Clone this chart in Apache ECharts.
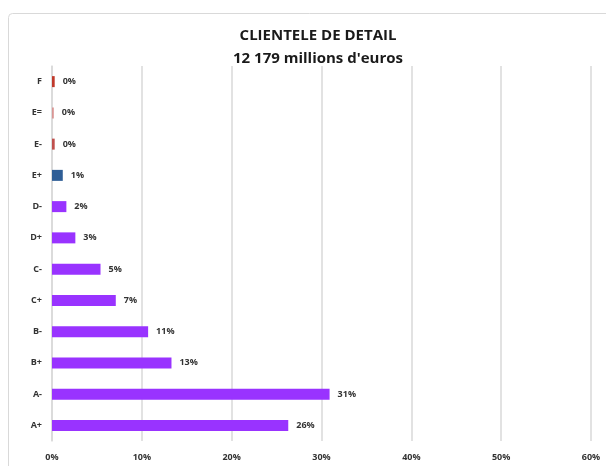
<!DOCTYPE html>
<html>
<head>
<meta charset="utf-8">
<script src="https://cdn.jsdelivr.net/npm/echarts@6/dist/echarts.min.js"></script>
<style>
  html, body { margin: 0; padding: 0; background: #fff; }
  #chart { width: 606px; height: 466px; }
</style>
</head>
<body>
<div id="chart"></div>
<script>
var categories = ['A+', 'A-', 'B+', 'B-', 'C+', 'C-', 'D+', 'D-', 'E+', 'E-', 'E=', 'F'];
var shares = [26.3, 30.9, 13.3, 10.7, 7.1, 5.4, 2.6, 1.6, 1.2, 0.3, 0.2, 0.3];
var barColors = ['#9933ff', '#9933ff', '#9933ff', '#9933ff', '#9933ff', '#9933ff',
  '#9933ff', '#9933ff', '#2f5e96', '#c0504d', '#d99694', '#c0392b'];
var xTicks = [0, 10, 20, 30, 40, 50, 60];

var font = 'Open Sans, Liberation Sans, sans-serif';
var chart = echarts.init(document.getElementById('chart'));

chart.setOption({
  animation: false,
  title: {
    text: 'CLIENTELE DE DETAIL\n12 179 millions d\'euros',
    left: 313,
    textAlign: 'center',
    top: 19,
    textStyle: { fontFamily: font, fontSize: 15, fontWeight: 'bold', color: '#1a1a1a', lineHeight: 23 }
  },
  graphic: [{
    type: 'rect',
    shape: { x: 8.5, y: 13.5, width: 620, height: 480, r: 4 },
    style: { fill: 'none', stroke: '#d9d9d9', lineWidth: 1 },
    silent: true
  }],
  grid: { left: 52, right: 15, top: 66, bottom: 25 },
  xAxis: {
    type: 'value',
    min: xTicks[0],
    max: xTicks[xTicks.length - 1],
    interval: 10,
    axisLine: { show: false },
    axisTick: { show: false },
    splitLine: { show: true, lineStyle: { color: '#d9d9d9', width: 1.5 } },
    axisLabel: {
      fontFamily: font, fontSize: 9, fontWeight: 'bold', color: '#333', margin: 12,
      formatter: function (v) { return v + '%'; }
    }
  },
  yAxis: {
    type: 'category',
    data: categories,
    axisLine: { show: true, lineStyle: { color: '#d9d9d9', width: 1.5 } },
    axisTick: { show: false },
    axisLabel: { fontFamily: font, fontSize: 9, fontWeight: 'bold', color: '#333', margin: 10 }
  },
  series: [{
    type: 'bar',
    data: shares.map(function (v, i) {
      return { value: v, itemStyle: { color: barColors[i] } };
    }),
    barWidth: 11,
    label: {
      show: true,
      position: 'right',
      distance: 8,
      fontFamily: font, fontSize: 9, fontWeight: 'bold', color: '#333',
      formatter: function (p) { return Math.round(p.value) + '%'; }
    }
  }]
});
</script>
</body>
</html>
